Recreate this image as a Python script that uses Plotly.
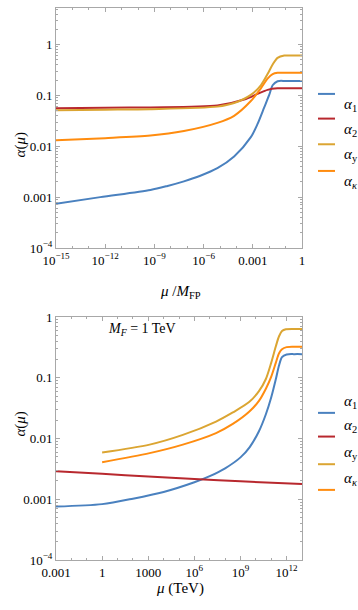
import numpy as np
import plotly.graph_objects as go

# ---- top panel: alpha(mu) vs mu / M_FP (log10 values)
top_a1_x = [-15, -12.3, -9.24, -8.2, -7.2, -6.2, -5.16, -4.14, -3.12, -2.71, -2.31, -2.0, -1.79, -1.49, -1.0, 0]
top_a1_y = [-3.13, -3.0, -2.86, -2.78, -2.69, -2.58, -2.43, -2.20, -1.82, -1.56, -1.24, -0.99, -0.80, -0.72, -0.715, -0.715]
top_a2_x = [-15, -12, -9.24, -5.16, -3.53, -2.71, -2.1, -1.49, -1.0, 0]
top_a2_y = [-1.25, -1.24, -1.235, -1.20, -1.08, -0.97, -0.89, -0.86, -0.86, -0.86]
top_ay_x = [-15, -12, -9.24, -5.16, -4.14, -3.12, -2.51, -2.1, -1.79, -1.49, -1.08, -0.5, 0]
top_ay_y = [-1.29, -1.28, -1.27, -1.22, -1.15, -0.99, -0.80, -0.58, -0.39, -0.26, -0.215, -0.215, -0.215]
top_ak_x = [-15, -12, -9.24, -7.2, -5.16, -4.14, -3.12, -2.51, -2.1, -1.79, -1.49, -1.0, 0]
top_ak_y = [-1.88, -1.84, -1.79, -1.70, -1.54, -1.40, -1.11, -0.86, -0.67, -0.58, -0.555, -0.555, -0.555]

# ---- bottom panel: alpha(mu) vs mu in TeV
bot_a1_x = [-3, 0, 2, 4, 6, 7, 8, 9, 9.6, 10.2, 10.65, 11.0, 11.3, 11.5, 11.7, 12.0, 12.5, 13]
bot_a1_y = [-3.12, -3.08, -2.99, -2.88, -2.72, -2.62, -2.49, -2.31, -2.14, -1.88, -1.60, -1.32, -1.02, -0.80, -0.66, -0.615, -0.61, -0.61]
bot_a2_x = [-3, 0, 3, 6, 9, 13]
bot_a2_y = [-2.54, -2.58, -2.625, -2.665, -2.705, -2.75]
bot_ay_x = [0, 3.09, 5.25, 7.41, 8.5, 9.56, 10.2, 10.65, 11.0, 11.3, 11.5, 11.7, 11.95, 12.5, 13]
bot_ay_y = [-2.23, -2.10, -1.94, -1.72, -1.57, -1.40, -1.22, -1.02, -0.75, -0.48, -0.32, -0.23, -0.20, -0.195, -0.195]
bot_ak_x = [0, 3.09, 5.25, 7.41, 8.5, 9.56, 10.2, 10.65, 11.0, 11.3, 11.5, 11.7, 12.0, 12.5, 13]
bot_ak_y = [-2.39, -2.24, -2.10, -1.91, -1.76, -1.56, -1.38, -1.18, -0.98, -0.75, -0.60, -0.53, -0.495, -0.49, -0.49]

names = ["<i>α</i><sub>1</sub>", "<i>α</i><sub>2</sub>", "<i>α</i><sub>y</sub>", "<i>α</i><sub><i>κ</i></sub>"]
colors = ["#4a81bf", "#b8282e", "#dba532", "#ff8c0f"]

top_tickvals = [1e-15, 1e-12, 1e-9, 1e-6, 1e-3, 1]
top_ticktext = ["10<sup>−15</sup>", "10<sup>−12</sup>", "10<sup>−9</sup>", "10<sup>−6</sup>", "0.001", "1"]
bot_tickvals = [1e-3, 1, 1e3, 1e6, 1e9, 1e12]
bot_ticktext = ["0.001", "1", "1000", "10<sup>6</sup>", "10<sup>9</sup>", "10<sup>12</sup>"]
y_tickvals = [1e-4, 1e-3, 1e-2, 1e-1, 1]
y_ticktext = ["10<sup>−4</sup>", "0.001", "0.01", "0.1", "1"]
M_F = 1  # TeV

FONT = "Liberation Serif"
FRAME = "#a8a8a8"
W, H = 358, 610
ML, MR, MT, MB = 56, 56, 1, 50


def px(x):
    return (x - ML) / (W - ML - MR)


def py(y):
    return (H - MB - y) / (H - MB - MT)


def lin(v):
    return 10.0 ** np.asarray(v, dtype=float)


fig = go.Figure()

top = [(top_a1_x, top_a1_y), (top_a2_x, top_a2_y), (top_ay_x, top_ay_y), (top_ak_x, top_ak_y)]
bot = [(bot_a1_x, bot_a1_y), (bot_a2_x, bot_a2_y), (bot_ay_x, bot_ay_y), (bot_ak_x, bot_ak_y)]
for (xs, ys), col in zip(top, colors):
    fig.add_trace(go.Scatter(x=lin(xs), y=lin(ys), mode="lines",
                             line=dict(color=col, width=2, shape="spline", smoothing=0.8),
                             xaxis="x", yaxis="y", showlegend=False, hoverinfo="skip"))
for (xs, ys), col in zip(bot, colors):
    fig.add_trace(go.Scatter(x=lin(xs), y=lin(ys), mode="lines",
                             line=dict(color=col, width=2, shape="spline", smoothing=0.8),
                             xaxis="x2", yaxis="y2", showlegend=False, hoverinfo="skip"))

ax_common = dict(type="log", showline=True, linecolor=FRAME, linewidth=1, mirror="allticks",
                 ticks="inside", ticklen=4, tickcolor=FRAME, showgrid=False, zeroline=False,
                 tickmode="array", tickfont=dict(family=FONT, size=13, color="black"))


def minor_vals(lo, hi):
    vals = []
    for e in range(lo, hi):
        for k in range(2, 10):
            vals.append(k * 10.0 ** e)
    return vals


fig.update_layout(
    width=W, height=H, margin=dict(l=ML, r=MR, t=MT, b=MB),
    paper_bgcolor="white", plot_bgcolor="white",
    xaxis=dict(ax_common, range=[-15, 0], domain=[0, 1], anchor="y",
               tickvals=top_tickvals, ticktext=top_ticktext,
               minor=dict(tickvals=[10.0 ** e for e in range(-15, 1)], ticklen=2, ticks="inside", tickcolor=FRAME)),
    yaxis=dict(ax_common, range=[-4, 0.72], domain=[py(244), 1], anchor="x",
               tickvals=y_tickvals, ticktext=y_ticktext,
               minor=dict(tickvals=minor_vals(-4, 1), ticklen=2, ticks="inside", tickcolor=FRAME)),
    xaxis2=dict(ax_common, range=[-3, 13], domain=[0, 1], anchor="y2",
                tickvals=bot_tickvals, ticktext=bot_ticktext,
                minor=dict(tickvals=[10.0 ** e for e in range(-3, 14)], ticklen=2, ticks="inside", tickcolor=FRAME)),
    yaxis2=dict(ax_common, range=[-4, 0], domain=[0, py(314)], anchor="x2",
                tickvals=y_tickvals, ticktext=y_ticktext,
                minor=dict(tickvals=minor_vals(-4, 0), ticklen=2, ticks="inside", tickcolor=FRAME)),
)

# dashed marker at M_F
fig.add_shape(type="line", xref="x2", yref="y2 domain", x0=np.log10(M_F), x1=np.log10(M_F), y0=0, y1=1,
              line=dict(color="#a0a0a0", width=1, dash="dash"))
fig.add_annotation(xref="x2", yref="y2 domain", x=np.log10(M_F), y=1, xanchor="left", yanchor="top",
                   xshift=4, yshift=-2, showarrow=False,
                   text="<i>M</i><sub><i>F</i></sub> = 1 TeV", font=dict(family=FONT, size=14, color="black"))

# axis titles
title_font = dict(family=FONT, size=15, color="black")
for yc in (125, 437):
    fig.add_annotation(xref="paper", yref="paper", x=px(10), y=py(yc), text="<i>α</i>(<i>μ</i>)",
                       textangle=-90, showarrow=False, font=title_font)
fig.add_annotation(xref="paper", yref="paper", x=px(180), y=py(289), showarrow=False, font=title_font,
                   text="<i>μ</i> /<i>M</i><sub>FP</sub>")
fig.add_annotation(xref="paper", yref="paper", x=px(180), y=py(599), showarrow=False, font=title_font,
                   text="<i>μ</i> (TeV)")

# hand-drawn legends to the right of each panel
for ys in ([88, 113, 139, 166], [411, 435, 463, 489]):
    for name, col, yp in zip(names, colors, ys):
        fig.add_shape(type="line", xref="paper", yref="paper", x0=px(318), x1=px(335), y0=py(yp), y1=py(yp),
                      line=dict(color=col, width=2))
        fig.add_annotation(xref="paper", yref="paper", x=px(342), y=py(yp), xanchor="left", showarrow=False,
                           text=name, font=dict(family=FONT, size=15, color="black"))

# drop the browser's default body margin so the figure sits at the page origin
fig.write_html("out.html", config={"displayModeBar": False},
               post_script="document.body.style.margin='0';document.body.style.overflow='hidden';")
